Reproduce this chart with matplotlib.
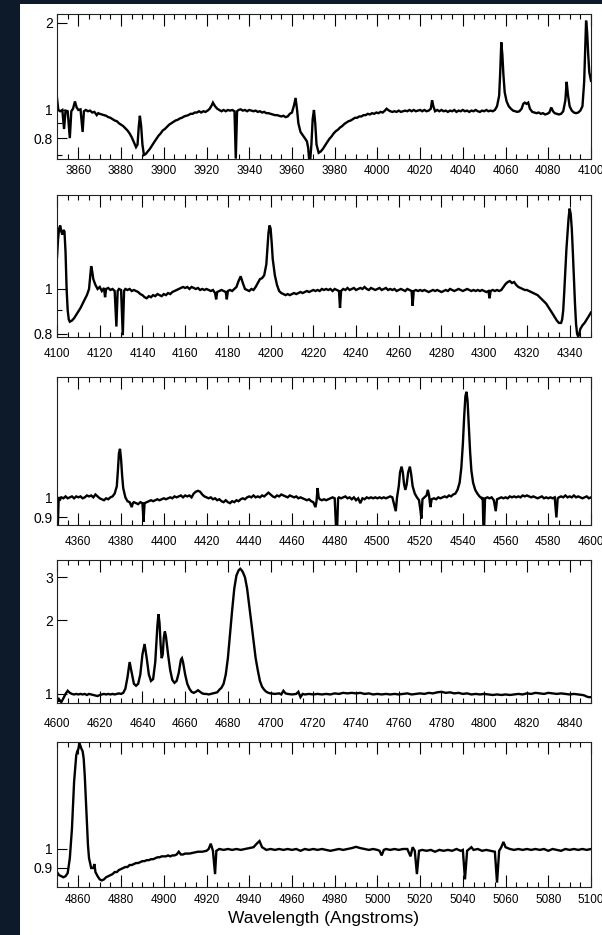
import numpy as np
import matplotlib.pyplot as plt
from matplotlib.patches import Rectangle
from matplotlib.ticker import MultipleLocator, FixedLocator, NullFormatter

plt.rcParams['font.family'] = ['Liberation Sans', 'DejaVu Sans']

#####################################################################
# normalised spectrum, (wavelength [A], flux)
#####################################################################
seg1 = [
    (3850, 1.10), (3850.6, 1.00), (3851.5, 0.99), (3852.5, 1.00), (3853.3, 0.86), (3854, 0.995),
    (3855, 0.99), (3856, 0.80), (3856.7, 0.99), (3857.5, 1.01), (3858.4, 1.07), (3859.2, 1.02),
    (3860, 1.00), (3861, 1.005), (3862, 0.84), (3862.6, 0.99), (3863.5, 1.00), (3864.5, 0.99),
    (3865.5, 0.995), (3866.5, 0.98), (3867.5, 0.985), (3868.6, 0.96), (3869.3, 0.975), (3870, 0.97),
    (3871, 0.965), (3872, 0.96), (3873, 0.955), (3874, 0.945), (3875, 0.94), (3876, 0.93),
    (3877, 0.92), (3878, 0.915), (3879, 0.90), (3880, 0.89), (3881, 0.88), (3882, 0.865),
    (3883, 0.85), (3884, 0.83), (3885, 0.805), (3886, 0.775), (3887, 0.745), (3887.7, 0.76),
    (3888.3, 0.88), (3888.8, 0.955), (3889.4, 0.88), (3890, 0.76), (3890.7, 0.70), (3891.5, 0.705),
    (3892.5, 0.72), (3893.5, 0.735), (3894.5, 0.755), (3895.5, 0.775), (3896.5, 0.795), (3897.5, 0.815),
    (3898.5, 0.83), (3899.5, 0.85), (3900.5, 0.86), (3901.5, 0.875), (3902.5, 0.89), (3903.5, 0.90),
    (3904.5, 0.91), (3905.5, 0.92), (3906.5, 0.925), (3907.5, 0.935), (3908.5, 0.94), (3909.5, 0.95),
    (3910.5, 0.955), (3911.5, 0.96), (3912.5, 0.97), (3913.5, 0.97), (3914.5, 0.98), (3915.5, 0.98),
    (3916.5, 0.99), (3917.5, 0.98), (3918.5, 0.99), (3919.5, 0.985), (3920.5, 0.995), (3921.5, 1.01),
    (3922.5, 1.04), (3923, 1.06), (3924, 1.03), (3925, 1.01), (3926, 1.00), (3927, 0.99),
    (3928, 1.00), (3929, 0.99), (3930, 1.00), (3931, 0.995), (3932, 1.00), (3933.1, 0.99),
    (3933.7, 0.68), (3934.3, 0.99), (3935, 1.00), (3936, 1.005), (3937, 0.995), (3938, 1.00),
    (3939, 0.99), (3940, 1.00), (3941, 0.995), (3942, 0.99), (3943, 0.995), (3944, 0.985),
    (3945, 0.99), (3946, 0.98), (3947, 0.985), (3948, 0.975), (3949, 0.975), (3950, 0.97),
    (3951, 0.965), (3952, 0.96), (3953, 0.96), (3954, 0.955), (3955, 0.95), (3956, 0.955),
    (3957, 0.945), (3958, 0.95), (3959, 0.97), (3960, 0.98), (3961, 1.04), (3961.7, 1.10),
    (3962.4, 1.00), (3963, 0.90), (3964, 0.84), (3965, 0.82), (3966, 0.80), (3967, 0.78),
    (3967.6, 0.74), (3968, 0.68), (3968.6, 0.68), (3969.1, 0.76), (3969.7, 0.93), (3970.3, 1.00),
    (3970.9, 0.90), (3971.5, 0.76), (3972.5, 0.712), (3973.5, 0.72), (3974.5, 0.735), (3975.5, 0.755),
    (3976.5, 0.775), (3977.5, 0.795), (3978.5, 0.81), (3979.5, 0.83), (3980.5, 0.845), (3981.5, 0.855),
    (3982.5, 0.87), (3983.5, 0.88), (3984.5, 0.895), (3985.5, 0.905), (3986.5, 0.915), (3987.5, 0.92),
    (3988.5, 0.93), (3989.5, 0.94), (3990.5, 0.94), (3991.5, 0.95), (3992.5, 0.95), (3993.5, 0.96),
    (3994.5, 0.96), (3995.5, 0.97), (3996.5, 0.965), (3997.5, 0.975), (3998.5, 0.97), (3999.5, 0.98),
    (4000.5, 0.975), (4001.5, 0.985), (4002.5, 0.98), (4003.5, 0.995), (4004.3, 1.01), (4005, 1.00),
    (4006, 0.99), (4007, 0.985), (4008, 0.99), (4009, 0.985), (4010, 0.995), (4011, 0.985),
    (4012, 0.99), (4013, 0.995), (4014, 0.99), (4015, 1.00), (4016, 0.99), (4017, 1.00),
    (4018, 0.99), (4019, 0.995), (4020, 1.00), (4021, 0.99), (4022, 1.00), (4023, 0.99),
    (4024, 0.995), (4025, 1.01), (4025.6, 1.08), (4026.2, 1.03), (4027, 0.99), (4028, 1.00),
    (4029, 0.99), (4030, 1.00), (4031, 0.99), (4032, 0.995), (4033, 0.985), (4034, 0.995),
    (4035, 0.99), (4036, 1.00), (4037, 0.985), (4038, 0.995), (4039, 0.99), (4040, 1.00),
    (4041, 0.99), (4042, 0.995), (4043, 0.985), (4044, 0.995), (4045, 0.99), (4046, 1.00),
    (4047, 0.99), (4048, 0.985), (4049, 0.995), (4050, 0.99), (4051, 1.00), (4052, 0.99),
    (4053, 0.995), (4054, 0.99), (4055, 1.00), (4056, 1.03), (4057, 1.12), (4057.5, 1.35),
    (4058, 1.71), (4058.5, 1.55), (4059, 1.32), (4059.6, 1.15), (4060.5, 1.07), (4061.5, 1.03),
    (4062.5, 1.01), (4063.5, 0.995), (4064.5, 0.99), (4065.5, 0.985), (4066.5, 0.99), (4067.5, 1.01),
    (4068.3, 1.05), (4069, 1.06), (4069.8, 1.05), (4070.6, 1.06), (4071.4, 1.01), (4072.5, 0.985),
    (4073.5, 0.98), (4074.5, 0.975), (4075.5, 0.98), (4076.5, 0.97), (4077.5, 0.975), (4078.5, 0.965),
    (4079.5, 0.97), (4080.5, 0.98), (4081.4, 1.02), (4082.2, 0.99), (4083, 0.975), (4084, 0.97),
    (4085, 0.965), (4086, 0.97), (4087, 0.99), (4088, 1.08), (4088.6, 1.25), (4089.2, 1.13),
    (4090, 1.03), (4091, 0.995), (4092, 0.98), (4093, 0.975), (4094, 0.98), (4095, 0.995),
    (4096, 1.03), (4096.8, 1.25), (4097.3, 1.65), (4097.7, 2.03), (4098.2, 1.85), (4098.7, 1.55),
    (4099.2, 1.35), (4100, 1.26),
]

seg2 = [
    (4100, 1.17), (4100.5, 1.28), (4101, 1.35), (4101.5, 1.37), (4102, 1.33), (4102.5, 1.31),
    (4103, 1.34), (4103.5, 1.33), (4104, 1.20), (4104.5, 1.00), (4105, 0.90), (4105.5, 0.86),
    (4106, 0.85), (4107, 0.855), (4108, 0.865), (4109, 0.88), (4110, 0.895), (4111, 0.91),
    (4112, 0.93), (4113, 0.95), (4114, 0.97), (4115, 1.00), (4115.5, 1.06), (4116, 1.12),
    (4116.5, 1.09), (4117, 1.05), (4118, 1.02), (4119, 1.00), (4120, 1.01), (4121, 0.99),
    (4122, 1.005), (4122.5, 0.96), (4123, 1.00), (4124, 1.005), (4125, 0.995), (4126, 1.00),
    (4127, 0.99), (4127.8, 0.83), (4128.4, 0.99), (4129, 1.00), (4130, 0.995), (4130.8, 0.795),
    (4131.4, 0.99), (4132, 1.00), (4133, 0.995), (4134, 1.00), (4135, 0.99), (4136, 0.995),
    (4137, 0.99), (4138, 0.985), (4139, 0.975), (4140, 0.97), (4141, 0.96), (4142, 0.955),
    (4143, 0.965), (4144, 0.96), (4145, 0.97), (4146, 0.965), (4147, 0.975), (4148, 0.97),
    (4149, 0.965), (4150, 0.975), (4151, 0.97), (4152, 0.98), (4153, 0.975), (4154, 0.985),
    (4155, 0.99), (4156, 0.995), (4157, 1.00), (4158, 1.005), (4159, 1.01), (4160, 1.005),
    (4161, 1.01), (4162, 1.00), (4163, 1.01), (4164, 1.005), (4165, 1.00), (4166, 1.005),
    (4167, 0.995), (4168, 1.00), (4169, 0.995), (4170, 1.00), (4171, 0.995), (4172, 0.99),
    (4173, 0.995), (4174, 0.98), (4174.5, 0.95), (4175, 0.985), (4176, 0.99), (4177, 0.995),
    (4178, 0.99), (4179, 0.985), (4179.5, 0.95), (4180, 0.99), (4181, 0.995), (4182, 0.99),
    (4183, 1.00), (4184, 1.01), (4185, 1.04), (4186, 1.065), (4187, 1.03), (4188, 1.00),
    (4189, 0.995), (4190, 0.99), (4191, 1.00), (4192, 0.995), (4193, 1.01), (4194, 1.03),
    (4195, 1.05), (4196, 1.055), (4197, 1.07), (4198, 1.13), (4198.5, 1.22), (4199, 1.32),
    (4199.5, 1.37), (4200, 1.35), (4200.5, 1.26), (4201, 1.16), (4202, 1.07), (4203, 1.02),
    (4204, 0.99), (4205, 0.98), (4206, 0.975), (4207, 0.97), (4208, 0.975), (4209, 0.97),
    (4210, 0.975), (4211, 0.98), (4212, 0.975), (4213, 0.98), (4214, 0.985), (4215, 0.98),
    (4216, 0.985), (4217, 0.99), (4218, 0.985), (4219, 0.99), (4220, 0.995), (4221, 0.99),
    (4222, 0.995), (4223, 0.99), (4224, 1.00), (4225, 0.995), (4226, 1.00), (4227, 0.995),
    (4228, 1.00), (4229, 0.99), (4230, 1.00), (4231, 0.995), (4232, 0.99), (4232.5, 0.91),
    (4233, 0.99), (4234, 1.00), (4235, 0.995), (4236, 1.005), (4237, 0.995), (4238, 1.00),
    (4239, 1.005), (4240, 0.995), (4241, 1.00), (4242, 1.005), (4243, 1.00), (4244, 1.01),
    (4245, 1.00), (4246, 0.995), (4247, 1.005), (4248, 1.00), (4249, 0.995), (4250, 1.00),
    (4251, 1.005), (4252, 0.995), (4253, 1.00), (4254, 1.005), (4255, 0.995), (4256, 1.00),
    (4257, 0.995), (4258, 1.00), (4259, 0.99), (4260, 0.995), (4261, 1.00), (4262, 0.995),
    (4263, 0.99), (4264, 1.00), (4265, 0.995), (4266, 0.99), (4266.5, 0.92), (4267, 0.99),
    (4268, 0.995), (4269, 0.99), (4270, 0.995), (4271, 0.99), (4272, 0.995), (4273, 0.99),
    (4274, 0.985), (4275, 0.99), (4276, 0.995), (4277, 0.99), (4278, 0.995), (4279, 0.99),
    (4280, 0.985), (4281, 0.99), (4282, 0.995), (4283, 0.99), (4284, 1.00), (4285, 0.995),
    (4286, 0.99), (4287, 0.995), (4288, 1.00), (4289, 0.995), (4290, 0.99), (4291, 0.995),
    (4292, 1.00), (4293, 0.995), (4294, 0.99), (4295, 0.995), (4296, 0.99), (4297, 0.995),
    (4298, 0.99), (4299, 0.995), (4300, 0.99), (4301, 0.985), (4302, 0.99), (4302.5, 0.955),
    (4303, 0.99), (4304, 0.995), (4305, 0.99), (4306, 0.995), (4307, 0.99), (4308, 0.995),
    (4309, 1.01), (4310, 1.025), (4311, 1.035), (4312, 1.04), (4313, 1.03), (4314, 1.035),
    (4315, 1.02), (4316, 1.01), (4317, 1.005), (4318, 1.00), (4319, 0.995), (4320, 0.995),
    (4321, 0.99), (4322, 0.985), (4323, 0.98), (4324, 0.975), (4325, 0.97), (4326, 0.96),
    (4327, 0.95), (4328, 0.94), (4329, 0.93), (4330, 0.915), (4331, 0.90), (4332, 0.885),
    (4333, 0.87), (4334, 0.855), (4335, 0.845), (4336, 0.845), (4336.5, 0.86), (4337, 0.90),
    (4337.5, 0.99), (4338, 1.10), (4338.5, 1.22), (4339, 1.32), (4339.5, 1.42), (4340, 1.49),
    (4340.5, 1.45), (4341, 1.35), (4341.5, 1.20), (4342, 1.05), (4342.5, 0.93), (4343, 0.84),
    (4343.5, 0.80), (4344, 0.79), (4344.5, 0.80), (4345, 0.82), (4346, 0.835), (4347, 0.845),
    (4348, 0.86), (4349, 0.875), (4350, 0.89),
]

seg3 = [
    (4350, 1.00), (4350.4, 0.865), (4350.8, 1.00), (4351.5, 0.99), (4352, 1.00), (4353, 0.995),
    (4354, 1.005), (4355, 0.995), (4356, 1.00), (4357, 1.005), (4358, 0.995), (4359, 1.005),
    (4360, 1.00), (4361, 1.005), (4362, 0.995), (4363, 1.00), (4364, 1.01), (4365, 1.005),
    (4366, 1.01), (4367, 1.00), (4368, 1.015), (4369, 1.005), (4370, 0.995), (4371, 0.99),
    (4372, 0.985), (4373, 0.995), (4374, 0.99), (4375, 1.00), (4376, 1.005), (4377, 1.02),
    (4378, 1.06), (4378.5, 1.15), (4379, 1.26), (4379.5, 1.29), (4380, 1.22), (4380.5, 1.12),
    (4381, 1.05), (4382, 1.00), (4383, 0.98), (4384, 0.975), (4385, 0.95), (4385.5, 0.97),
    (4386, 0.975), (4387, 0.97), (4388, 0.965), (4389, 0.975), (4390, 0.97), (4390.5, 0.88),
    (4391, 0.97), (4392, 0.975), (4393, 0.98), (4394, 0.985), (4395, 0.98), (4396, 0.985),
    (4397, 0.99), (4398, 0.985), (4399, 0.99), (4400, 0.995), (4401, 0.99), (4402, 0.995),
    (4403, 1.00), (4404, 0.995), (4405, 1.005), (4406, 1.00), (4407, 1.005), (4408, 1.01),
    (4409, 1.00), (4410, 1.01), (4411, 1.005), (4412, 1.01), (4413, 1.00), (4414, 1.02),
    (4415, 1.03), (4416, 1.035), (4417, 1.03), (4418, 1.015), (4419, 1.005), (4420, 1.00),
    (4421, 0.995), (4422, 1.00), (4423, 0.99), (4424, 0.995), (4425, 0.985), (4426, 0.99),
    (4427, 0.98), (4428, 0.975), (4429, 0.985), (4430, 0.975), (4431, 0.97), (4432, 0.98),
    (4433, 0.975), (4434, 0.985), (4435, 0.98), (4436, 0.99), (4437, 0.995), (4438, 0.99),
    (4439, 1.00), (4440, 1.005), (4441, 1.00), (4442, 1.01), (4443, 1.00), (4444, 1.005),
    (4445, 1.00), (4446, 1.01), (4447, 1.005), (4448, 1.015), (4449, 1.025), (4450, 1.015),
    (4451, 1.005), (4452, 1.00), (4453, 1.01), (4454, 1.005), (4455, 1.015), (4456, 1.01),
    (4457, 1.005), (4458, 1.00), (4459, 1.01), (4460, 1.005), (4461, 1.00), (4462, 1.005),
    (4463, 0.995), (4464, 1.00), (4465, 0.995), (4466, 0.99), (4467, 0.985), (4468, 0.99),
    (4469, 0.98), (4470, 0.975), (4471, 0.95), (4471.5, 0.98), (4472, 1.05), (4472.5, 1.00),
    (4473, 0.99), (4474, 0.985), (4475, 0.99), (4476, 0.985), (4477, 0.99), (4478, 0.995),
    (4479, 1.00), (4480, 0.995), (4480.6, 0.865), (4481.2, 0.865), (4481.6, 0.995), (4482, 1.00),
    (4483, 0.995), (4484, 1.00), (4485, 1.005), (4486, 0.995), (4487, 1.00), (4488, 0.99),
    (4489, 1.00), (4490, 0.985), (4491, 0.995), (4492, 0.97), (4493, 0.995), (4494, 0.99),
    (4495, 1.00), (4496, 0.995), (4497, 1.00), (4498, 0.995), (4499, 1.00), (4500, 0.995),
    (4501, 1.00), (4502, 0.995), (4503, 1.00), (4504, 0.995), (4505, 1.00), (4506, 1.005),
    (4507, 1.00), (4508.6, 0.93), (4509.2, 1.00), (4510, 1.06), (4510.6, 1.14), (4511.3, 1.175),
    (4511.9, 1.14), (4512.5, 1.07), (4513.1, 1.04), (4513.7, 1.07), (4514.4, 1.14), (4515.2, 1.175),
    (4515.8, 1.13), (4516.5, 1.06), (4517.5, 1.02), (4518.5, 1.00), (4519.5, 0.985), (4520.2, 0.93),
    (4520.6, 0.895), (4521.1, 0.99), (4522, 1.00), (4523, 1.01), (4523.6, 1.04), (4524.2, 1.01),
    (4524.8, 0.95), (4525.4, 0.99), (4526.5, 0.995), (4527.5, 0.99), (4528.5, 1.00), (4529.5, 0.995),
    (4530.5, 1.00), (4531.5, 1.005), (4532.5, 1.00), (4533.5, 1.01), (4534.5, 1.005), (4535.5, 1.015),
    (4536.5, 1.02), (4537.5, 1.04), (4538.5, 1.08), (4539.3, 1.17), (4540, 1.32), (4540.6, 1.52),
    (4541.2, 1.70), (4541.7, 1.74), (4542.2, 1.66), (4542.8, 1.45), (4543.4, 1.27), (4544, 1.15),
    (4544.8, 1.08), (4545.8, 1.04), (4546.8, 1.02), (4547.8, 1.005), (4548.8, 0.995), (4549.3, 1.00),
    (4549.6, 0.865), (4550, 0.865), (4550.4, 0.995), (4551.5, 1.00), (4552.5, 0.995), (4553.5, 1.00),
    (4554.5, 0.985), (4555.4, 0.93), (4556, 0.99), (4557, 0.995), (4558, 1.00), (4559, 0.995),
    (4560, 1.00), (4561, 0.995), (4562, 1.005), (4563, 1.00), (4564, 1.005), (4565, 1.00),
    (4566, 1.005), (4567, 1.00), (4568, 1.01), (4569, 1.005), (4570, 1.01), (4571, 1.005),
    (4572, 1.00), (4573, 1.005), (4574, 1.00), (4575, 0.995), (4576, 1.00), (4577, 1.005),
    (4578, 0.995), (4579, 1.00), (4580, 0.995), (4581, 1.00), (4582, 0.995), (4583, 1.00),
    (4583.8, 0.90), (4584.4, 0.995), (4585, 1.00), (4586, 1.005), (4587, 1.00), (4588, 1.01),
    (4589, 1.00), (4590, 1.005), (4591, 1.00), (4592, 1.01), (4593, 1.00), (4594, 1.005),
    (4595, 1.00), (4596, 0.995), (4597, 1.00), (4598, 1.005), (4599, 0.995), (4600, 1.00),
]

seg4 = [
    (4600, 0.97), (4600.5, 0.93), (4601, 0.95), (4602, 0.925), (4603, 0.96), (4604, 1.00),
    (4605, 1.03), (4606, 1.01), (4607, 1.00), (4608, 0.995), (4609, 1.00), (4610, 0.995),
    (4611, 1.00), (4612, 0.995), (4613, 1.00), (4614, 0.99), (4615, 1.00), (4616, 0.995),
    (4617, 0.99), (4618, 0.985), (4619, 0.98), (4620, 0.99), (4621, 0.995), (4622, 1.00),
    (4623, 0.995), (4624, 1.00), (4625, 0.995), (4626, 1.00), (4627, 0.995), (4628, 1.00),
    (4629, 1.005), (4630, 1.00), (4631, 1.01), (4632, 1.05), (4633, 1.17), (4634, 1.35),
    (4635, 1.22), (4636, 1.10), (4637, 1.08), (4638, 1.10), (4639, 1.20), (4640, 1.45),
    (4641, 1.60), (4642, 1.40), (4643, 1.20), (4644, 1.13), (4645, 1.15), (4646, 1.35),
    (4647, 1.90), (4647.5, 2.12), (4648, 1.95), (4648.5, 1.60), (4649, 1.40), (4649.5, 1.45),
    (4650, 1.70), (4650.5, 1.80), (4651, 1.72), (4652, 1.45), (4653, 1.25), (4654, 1.14),
    (4655, 1.11), (4656, 1.13), (4657, 1.22), (4658, 1.38), (4658.5, 1.40), (4659, 1.35),
    (4660, 1.20), (4661, 1.10), (4662, 1.05), (4663, 1.02), (4664, 1.01), (4665, 1.02),
    (4666, 1.035), (4667, 1.02), (4668, 1.005), (4669, 1.00), (4670, 1.00), (4671, 0.995),
    (4672, 1.00), (4673, 1.005), (4674, 1.01), (4675, 1.015), (4676, 1.04), (4677, 1.06),
    (4678, 1.10), (4679, 1.20), (4680, 1.40), (4681, 1.75), (4682, 2.20), (4683, 2.70),
    (4684, 3.05), (4685, 3.20), (4685.8, 3.25), (4686.5, 3.20), (4687, 3.15), (4688, 3.00),
    (4689, 2.70), (4690, 2.30), (4691, 1.95), (4692, 1.65), (4693, 1.40), (4694, 1.25),
    (4695, 1.13), (4696, 1.07), (4697, 1.04), (4698, 1.02), (4699, 1.01), (4700, 1.005),
    (4702, 1.00), (4704, 1.005), (4705, 0.995), (4706, 1.03), (4707, 1.005), (4708, 1.00),
    (4710, 0.995), (4712, 1.00), (4713, 1.02), (4714, 0.97), (4715, 1.00), (4716, 0.995),
    (4718, 1.00), (4720, 0.995), (4722, 1.00), (4724, 0.995), (4726, 1.00), (4728, 0.995),
    (4730, 1.005), (4732, 1.00), (4734, 1.01), (4736, 1.005), (4738, 1.01), (4740, 1.005),
    (4742, 1.01), (4744, 1.00), (4746, 1.005), (4748, 0.995), (4750, 1.00), (4752, 0.995),
    (4754, 1.00), (4756, 0.995), (4758, 1.00), (4760, 0.995), (4762, 1.00), (4764, 1.005),
    (4766, 0.995), (4768, 1.00), (4770, 1.005), (4772, 1.00), (4774, 1.01), (4776, 1.005),
    (4778, 1.015), (4780, 1.02), (4782, 1.01), (4784, 1.015), (4786, 1.005), (4788, 1.01),
    (4790, 1.00), (4792, 1.005), (4794, 0.995), (4796, 1.00), (4798, 0.995), (4800, 1.00),
    (4802, 0.995), (4804, 0.99), (4806, 0.995), (4808, 0.99), (4810, 0.995), (4812, 0.99),
    (4814, 0.995), (4816, 1.00), (4818, 0.995), (4820, 1.005), (4822, 1.00), (4824, 1.01),
    (4826, 1.005), (4828, 1.00), (4830, 1.01), (4832, 1.005), (4834, 1.00), (4836, 1.005),
    (4838, 1.00), (4840, 0.995), (4842, 1.00), (4844, 0.995), (4846, 0.99), (4847, 0.985),
    (4848, 0.975), (4849, 0.97), (4850, 0.97),
]

seg5 = [
    (4850, 0.88), (4851, 0.865), (4852, 0.86), (4853, 0.855), (4854, 0.86), (4855, 0.875),
    (4856, 0.95), (4857, 1.12), (4858, 1.45), (4859, 1.68), (4859.5, 1.72), (4860, 1.74),
    (4860.5, 1.80), (4861, 1.77), (4861.5, 1.74), (4862, 1.72), (4862.5, 1.65), (4863, 1.50),
    (4863.5, 1.32), (4864, 1.15), (4864.5, 1.02), (4865, 0.95), (4866, 0.90), (4867, 0.90),
    (4867.5, 0.92), (4868, 0.88), (4869, 0.86), (4870, 0.845), (4871, 0.84), (4872, 0.845),
    (4873, 0.855), (4874, 0.86), (4875, 0.865), (4876, 0.87), (4877, 0.88), (4878, 0.88),
    (4879, 0.89), (4880, 0.895), (4881, 0.90), (4882, 0.905), (4883, 0.905), (4884, 0.915),
    (4885, 0.915), (4886, 0.92), (4887, 0.925), (4888, 0.925), (4889, 0.93), (4890, 0.935),
    (4891, 0.935), (4892, 0.94), (4893, 0.94), (4894, 0.945), (4895, 0.945), (4896, 0.95),
    (4897, 0.955), (4898, 0.955), (4899, 0.96), (4900, 0.96), (4901, 0.96), (4902, 0.965),
    (4903, 0.96), (4904, 0.965), (4905, 0.965), (4906, 0.97), (4907, 0.985), (4908, 0.97),
    (4909, 0.97), (4910, 0.975), (4912, 0.975), (4914, 0.98), (4916, 0.985), (4918, 0.985),
    (4920, 0.99), (4921, 1.00), (4922, 1.03), (4923, 0.99), (4924, 0.87), (4924.6, 0.99),
    (4926, 1.00), (4928, 0.995), (4930, 1.00), (4932, 0.995), (4934, 1.00), (4936, 0.995),
    (4938, 1.00), (4940, 1.005), (4942, 1.01), (4943.5, 1.03), (4944.8, 1.045), (4946, 1.01),
    (4948, 0.995), (4950, 1.00), (4952, 0.995), (4954, 1.00), (4956, 0.995), (4958, 1.00),
    (4960, 0.995), (4962, 1.00), (4964, 0.99), (4966, 1.00), (4968, 0.995), (4970, 1.00),
    (4972, 0.995), (4974, 1.00), (4976, 0.995), (4978, 0.99), (4980, 0.995), (4982, 1.00),
    (4984, 0.995), (4986, 1.00), (4988, 1.005), (4990, 1.012), (4992, 1.005), (4994, 1.00),
    (4996, 0.995), (4998, 1.00), (5000, 0.995), (5001, 0.99), (5002, 0.965), (5003, 0.995),
    (5004, 1.00), (5006, 0.995), (5008, 1.00), (5010, 0.995), (5012, 1.00), (5014, 1.00),
    (5015.5, 0.96), (5016.5, 1.01), (5017.5, 0.99), (5018.5, 0.87), (5019.5, 0.99), (5021, 0.995),
    (5023, 0.99), (5025, 0.995), (5027, 0.985), (5029, 0.995), (5031, 0.99), (5033, 0.995),
    (5035, 0.99), (5037, 1.00), (5039, 0.99), (5040, 0.995), (5041, 0.845), (5042, 0.99),
    (5043, 1.00), (5044, 1.01), (5045, 0.995), (5047, 1.00), (5049, 0.99), (5051, 0.995),
    (5053, 0.99), (5055, 0.985), (5056, 0.83), (5057, 0.99), (5058, 1.01), (5059, 1.04),
    (5060, 1.01), (5062, 1.00), (5064, 0.995), (5066, 1.00), (5068, 0.995), (5070, 1.00),
    (5072, 0.995), (5074, 1.00), (5076, 0.995), (5078, 1.00), (5080, 0.99), (5082, 1.00),
    (5084, 0.995), (5086, 0.99), (5088, 1.00), (5090, 0.995), (5092, 1.00), (5094, 0.995),
    (5096, 1.00), (5098, 0.995), (5100, 1.00),
]

segments = [seg1, seg2, seg3, seg4, seg5]
xranges = [(3850, 4100), (4100, 4350), (4350, 4600), (4600, 4850), (4850, 5100)]
ylims = [(0.678, 2.14), (0.788, 1.594), (0.865, 1.88), (0.918, 3.53), (0.81, 1.81)]
ymajor = [[0.8, 1, 2], [0.8, 1], [0.9, 1], [1, 2, 3], [0.9, 1]]
ylabels = [['0.8', '1', '2'], ['0.8', '1'], ['0.9', '1'], ['1', '2', '3'], ['0.9', '1']]
yminor = [[0.7, 0.9], [0.9], [], [], []]

#####################################################################
# figure layout in pixels
#####################################################################
W, H = 602, 935
boxes = [(14, 159), (195, 337), (377, 525), (560, 703), (742, 887)]
xpads = [4.5, 8, 8, 11, 5]
x0, x1 = 57, 591

fig = plt.figure(figsize=(W/100, H/100), dpi=100)
fig.patch.set_facecolor('#0c1a2a')
# white page sitting on the dark backdrop
page = Rectangle((20/W, 0), 1 - 20/W, 1 - 4/H, transform=fig.transFigure,
                 facecolor='white', edgecolor='none', zorder=-10)
fig.patches.append(page)

for i in range(5):
    top, bot = boxes[i]
    ax = fig.add_axes([x0/W, 1 - bot/H, (x1 - x0)/W, (bot - top)/H])
    ax.set_facecolor('white')
    wl, fl = np.array(segments[i]).T
    ax.plot(wl, fl, color='black', lw=1.7, solid_joinstyle='miter')
    ax.set_yscale('log')
    ax.set_xlim(*xranges[i])
    ax.set_ylim(*ylims[i])

    ax.xaxis.set_major_locator(MultipleLocator(20))
    ax.xaxis.set_minor_locator(MultipleLocator(5))
    ax.tick_params(axis='x', which='both', direction='in', top=True, bottom=True,
                   labelsize=8.5, pad=xpads[i], width=0.8)
    ax.tick_params(axis='x', which='major', length=8.5)
    ax.tick_params(axis='x', which='minor', length=3.6)

    ax.yaxis.set_major_locator(FixedLocator(ymajor[i]))
    ax.set_yticklabels(ylabels[i])
    ax.yaxis.set_minor_locator(FixedLocator(yminor[i]))
    ax.yaxis.set_minor_formatter(NullFormatter())
    ax.tick_params(axis='y', which='both', direction='in', left=True, right=False,
                   labelsize=10, pad=3, width=0.8)
    ax.tick_params(axis='y', which='major', length=7)
    ax.tick_params(axis='y', which='minor', length=3.5)

    for sp in ax.spines.values():
        sp.set_linewidth(0.8)
        sp.set_color('#222222')

fig.text((x0 + x1)/2/W, 1 - 918/H, 'Wavelength (Angstroms)', ha='center', va='center',
         fontsize=12.5)

plt.savefig('out.png', dpi=100, facecolor=fig.get_facecolor())
